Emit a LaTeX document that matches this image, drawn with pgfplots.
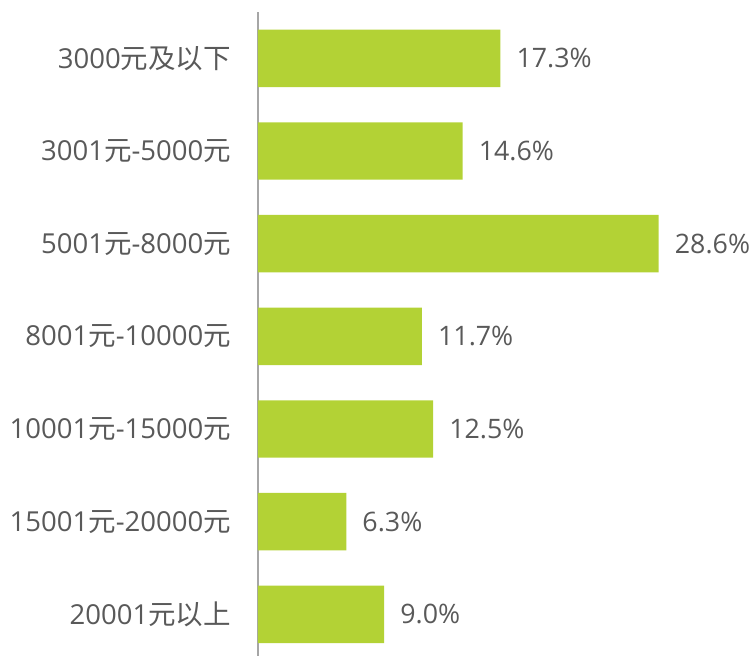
\documentclass[border=0pt]{standalone}
\usepackage{fontspec}
\setmainfont{Open Sans}
\newfontfamily\cjk{Noto Sans CJK SC}
\usepackage{pgfplots}
\pgfplotsset{compat=1.18}
\definecolor{barg}{HTML}{B3D235}
\definecolor{txt}{HTML}{595959}
\definecolor{axg}{HTML}{A6A6A6}
\newcommand{\yuan}{{\cjk 元}}
\begin{document}
\begin{tikzpicture}
\begin{axis}[
  name=ax,
  scale only axis,
  width=495pt, height=644pt,
  xbar, bar width=0.62,
  xmin=0, xmax=35.33,
  ymin=-0.5, ymax=6.45,
  y dir=reverse,
  hide x axis,
  axis y line*=left,
  y axis line style={axg, line width=1.2pt, -},
  ytick={0,1,2,3,4,5,6},
  yticklabels={3000{\cjk 元及以下},3001\yuan-5000\yuan,5001\yuan-8000\yuan,8001\yuan-10000\yuan,10001\yuan-15000\yuan,15001\yuan-20000\yuan,20001{\cjk 元以上}},
  major tick length=0pt,
  yticklabel style={font=\fontsize{27.5}{31}\selectfont, text=txt, inner sep=0pt, xshift=-27pt},
  nodes near coords={\pgfmathprintnumber[fixed,fixed zerofill,precision=1,assume math mode=true]{\pgfplotspointmeta}\%},
  nodes near coords style={font=\fontsize{26.8}{30}\selectfont, text=txt, anchor=west, inner sep=0pt, xshift=16pt},
  clip=false,
]
\addplot[fill=barg, draw=none] coordinates {(17.3,0) (14.6,1) (28.6,2) (11.7,3) (12.5,4) (6.3,5) (9.0,6)};
\end{axis}
\path ([xshift=-258pt]ax.south west) rectangle ++(753pt,656pt);
\end{tikzpicture}
\end{document}
